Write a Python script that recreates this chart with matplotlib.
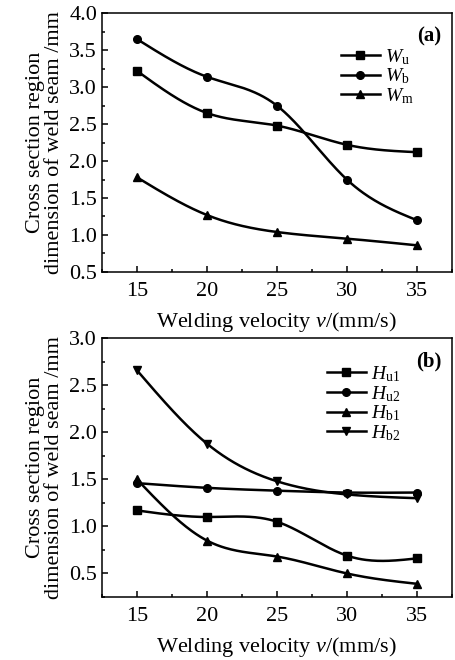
import numpy as np
import matplotlib
matplotlib.use("Agg")
import matplotlib.pyplot as plt
from matplotlib.ticker import MultipleLocator

plt.rcParams["font.family"] = ["Liberation Serif", "DejaVu Serif"]
plt.rcParams["mathtext.fontset"] = "custom"
plt.rcParams["mathtext.it"] = "Liberation Serif:italic"
plt.rcParams["mathtext.rm"] = "Liberation Serif"

# welding velocity (mm/s)
velocity = [15, 20, 25, 30, 35]

# panel (a): widths (mm)
w_u = [3.22, 2.65, 2.48, 2.22, 2.12]
w_b = [3.65, 3.14, 2.75, 1.75, 1.20]
w_m = [1.78, 1.27, 1.04, 0.95, 0.86]

# panel (b): heights (mm)
h_u1 = [1.17, 1.10, 1.05, 0.69, 0.66]
h_u2 = [1.46, 1.41, 1.38, 1.36, 1.36]
h_b1 = [1.50, 0.85, 0.68, 0.50, 0.39]
h_b2 = [2.66, 1.88, 1.48, 1.34, 1.30]

labels_a = [r"$W_{\rm u}$", r"$W_{\rm b}$", r"$W_{\rm m}$"]
labels_b = [r"$H_{\rm u1}$", r"$H_{\rm u2}$", r"$H_{\rm b1}$", r"$H_{\rm b2}$"]
markers_a = ["s", "o", "^"]
markers_b = ["s", "o", "^", "v"]

YLABEL = "Cross section region\ndimension of weld seam /mm"
XLABEL = r"Welding velocity $v$/(mm/s)"


def smooth(x, y, n=200):
    """natural cubic spline through the points, for drawing the curve"""
    x = np.asarray(x, float)
    y = np.asarray(y, float)
    k = len(x)
    h = np.diff(x)
    A = np.zeros((k, k))
    r = np.zeros(k)
    A[0, 0] = A[-1, -1] = 1
    for i in range(1, k - 1):
        A[i, i - 1] = h[i - 1]
        A[i, i] = 2 * (h[i - 1] + h[i])
        A[i, i + 1] = h[i]
        r[i] = 3 * ((y[i + 1] - y[i]) / h[i] - (y[i] - y[i - 1]) / h[i - 1])
    c = np.linalg.solve(A, r)
    xs = np.linspace(x[0], x[-1], n)
    idx = np.clip(np.searchsorted(x, xs) - 1, 0, k - 2)
    dx = xs - x[idx]
    b = (y[1:] - y[:-1]) / h - h * (2 * c[:-1] + c[1:]) / 3
    d = (c[1:] - c[:-1]) / (3 * h)
    ys = y[idx] + b[idx] * dx + c[idx] * dx ** 2 + d[idx] * dx ** 3
    return xs, ys


def panel(ax, series, labels, markers, ylim, tag, leg_anchor):
    for ys, lab, m in zip(series, labels, markers):
        sx, sy = smooth(velocity, ys)
        ax.plot(sx, sy, color="black", lw=1.8)
        ax.plot(velocity, ys, ls="none", marker=m, color="black", ms=5.5)
        ax.plot([], [], color="black", lw=1.8, marker=m, ms=5.5, label=lab)
    ax.set_xlim(12.5, 37.5)
    ax.set_ylim(*ylim)
    ax.set_xticks(velocity)
    ax.xaxis.set_minor_locator(MultipleLocator(2.5))
    ax.yaxis.set_major_locator(MultipleLocator(0.5))
    ax.yaxis.set_minor_locator(MultipleLocator(0.25))
    ax.tick_params(which="both", direction="in", top=False, right=False,
                   labelsize=16, width=1.1)
    ax.tick_params(which="major", length=4)
    ax.tick_params(which="minor", length=2)
    ax.tick_params(axis="x", pad=7)
    for s in ax.spines.values():
        s.set_linewidth(1.1)
    ax.yaxis.set_major_formatter(matplotlib.ticker.FormatStrFormatter("%.1f"))
    ax.set_xlabel(XLABEL, fontsize=16, labelpad=7)
    ax.set_ylabel(YLABEL, fontsize=16, linespacing=0.95, labelpad=4)
    ax.text(0.97, 0.95, tag, transform=ax.transAxes, ha="right", va="top",
            fontsize=15, fontweight="bold")
    ax.legend(loc="upper left", bbox_to_anchor=leg_anchor, frameon=False,
              fontsize=14, handlelength=2.0, handletextpad=0.3,
              labelspacing=0.0, borderaxespad=0)


fig = plt.figure(figsize=(4.55, 6.6), dpi=100)
ax_a = fig.add_axes([0.224, 0.588, 0.769, 0.392])
ax_b = fig.add_axes([0.224, 0.0955, 0.769, 0.392])

panel(ax_a, [w_u, w_b, w_m], labels_a, markers_a, (0.5, 4.0), "(a)", (0.66, 0.90))
panel(ax_b, [h_u1, h_u2, h_b1, h_b2], labels_b, markers_b, (0.25, 3.0), "(b)", (0.62, 0.93))

fig.savefig("out.png", dpi=100)
